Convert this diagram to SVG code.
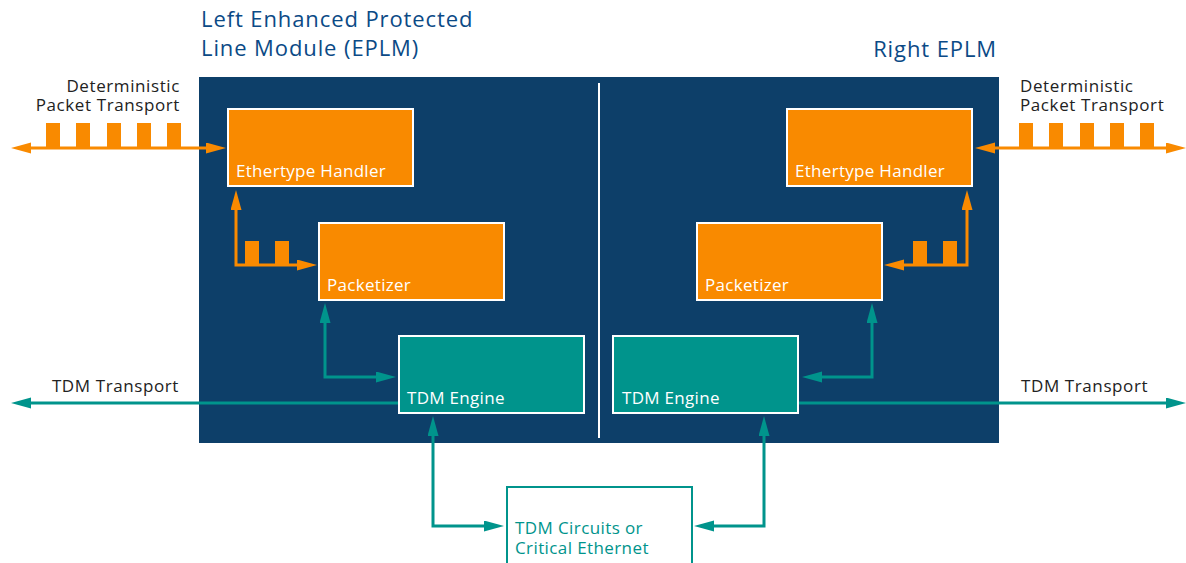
<svg xmlns="http://www.w3.org/2000/svg" width="1186" height="563" viewBox="0 0 1186 563">
  <style>
    .title { font-family: "Open Sans", "Liberation Sans", sans-serif; font-size: 22px; font-weight: 500; letter-spacing: 0.9px; fill: #0b4a86; }
    .label { font-family: "Open Sans", "Liberation Sans", sans-serif; font-size: 17px; font-weight: 500; letter-spacing: 0.6px; fill: #222222; }
    .node-text { font-family: "Open Sans", "Liberation Sans", sans-serif; font-size: 17px; font-weight: 500; letter-spacing: 0.3px; fill: #ffffff; }
    .teal-text { font-family: "Open Sans", "Liberation Sans", sans-serif; font-size: 17px; font-weight: 500; letter-spacing: 0.4px; fill: #00948c; }
    .orange-box { fill: #f98a00; stroke: #ffffff; stroke-width: 2; }
    .teal-box { fill: #00948c; stroke: #ffffff; stroke-width: 2; }
    .orange-line { fill: none; stroke: #f98a00; stroke-width: 3; }
    .teal-line { fill: none; stroke: #00948c; stroke-width: 3; }
    .pulse { fill: #f98a00; }
  </style>
  <defs>
    <marker id="arrow-orange" markerUnits="userSpaceOnUse" markerWidth="20" markerHeight="12" refX="12" refY="5.5" orient="auto-start-reverse">
      <path d="M0,0 L20,5.5 L0,11 z" fill="#f98a00"/>
    </marker>
    <marker id="arrow-teal" markerUnits="userSpaceOnUse" markerWidth="20" markerHeight="12" refX="12" refY="5.5" orient="auto-start-reverse">
      <path d="M0,0 L20,5.5 L0,11 z" fill="#00948c"/>
    </marker>
  </defs>

  <!-- module panel -->
  <rect x="199" y="77" width="800" height="366" fill="#0d3f69"/>
  <rect x="598" y="83" width="2" height="355" fill="#ffffff"/>

  <!-- headings -->
  <text class="title" x="201" y="27">Left Enhanced Protected</text>
  <text class="title" x="201" y="56">Line Module (EPLM)</text>
  <text class="title" x="997" y="57" text-anchor="end">Right EPLM</text>

  <!-- outside labels -->
  <text class="label" x="180" y="92" text-anchor="end">Deterministic</text>
  <text class="label" x="180" y="111" text-anchor="end">Packet Transport</text>
  <text class="label" x="1020" y="92">Deterministic</text>
  <text class="label" x="1020" y="111">Packet Transport</text>
  <text class="label" x="179" y="392" text-anchor="end">TDM Transport</text>
  <text class="label" x="1021" y="392">TDM Transport</text>

  <!-- connectors -->
  <g id="connectors">
    <!-- left packet transport -->
    <path class="orange-line" d="M19,148 H218" marker-start="url(#arrow-orange)" marker-end="url(#arrow-orange)"/>
    <rect class="pulse" x="46" y="123" width="14" height="25"/>
    <rect class="pulse" x="76" y="123" width="14" height="25"/>
    <rect class="pulse" x="107" y="123" width="14" height="25"/>
    <rect class="pulse" x="137" y="123" width="14" height="25"/>
    <rect class="pulse" x="167" y="123" width="14" height="25"/>
    <!-- left ethertype / packetizer -->
    <path class="orange-line" d="M236,198 V265 H309" marker-start="url(#arrow-orange)" marker-end="url(#arrow-orange)"/>
    <rect class="pulse" x="245" y="241" width="14" height="24"/>
    <rect class="pulse" x="275" y="241" width="14" height="24"/>
    <!-- left packetizer / tdm engine -->
    <path class="teal-line" d="M325,311 V377 H388" marker-start="url(#arrow-teal)" marker-end="url(#arrow-teal)"/>
    <!-- left tdm transport -->
    <path class="teal-line" d="M398,403 H19" marker-end="url(#arrow-teal)"/>
    <!-- left tdm engine / circuits -->
    <path class="teal-line" d="M433,424 V526 H496" marker-start="url(#arrow-teal)" marker-end="url(#arrow-teal)"/>

    <!-- right packet transport -->
    <path class="orange-line" d="M983,148 H1178" marker-start="url(#arrow-orange)" marker-end="url(#arrow-orange)"/>
    <rect class="pulse" x="1019" y="123" width="14" height="25"/>
    <rect class="pulse" x="1049" y="123" width="14" height="25"/>
    <rect class="pulse" x="1080" y="123" width="14" height="25"/>
    <rect class="pulse" x="1110" y="123" width="14" height="25"/>
    <rect class="pulse" x="1140" y="123" width="14" height="25"/>
    <!-- right ethertype / packetizer -->
    <path class="orange-line" d="M967,198 V265 H892" marker-start="url(#arrow-orange)" marker-end="url(#arrow-orange)"/>
    <rect class="pulse" x="913" y="241" width="14" height="24"/>
    <rect class="pulse" x="943" y="241" width="14" height="24"/>
    <!-- right packetizer / tdm engine -->
    <path class="teal-line" d="M872,311 V377 H810" marker-start="url(#arrow-teal)" marker-end="url(#arrow-teal)"/>
    <!-- right tdm transport -->
    <path class="teal-line" d="M799,403 H1178" marker-end="url(#arrow-teal)"/>
    <!-- right tdm engine / circuits -->
    <path class="teal-line" d="M764,424 V526 H702" marker-start="url(#arrow-teal)" marker-end="url(#arrow-teal)"/>
  </g>

  <!-- left module blocks -->
  <g id="left-ethertype">
    <rect class="orange-box" x="228" y="109" width="185" height="77"/>
    <text class="node-text" x="236" y="177">Ethertype Handler</text>
  </g>
  <g id="left-packetizer">
    <rect class="orange-box" x="319" y="223" width="185" height="77"/>
    <text class="node-text" x="327" y="291">Packetizer</text>
  </g>
  <g id="left-tdm-engine">
    <rect class="teal-box" x="399" y="336" width="185" height="77"/>
    <text class="node-text" x="407" y="404">TDM Engine</text>
  </g>

  <!-- right module blocks -->
  <g id="right-ethertype">
    <rect class="orange-box" x="787" y="109" width="185" height="77"/>
    <text class="node-text" x="795" y="177">Ethertype Handler</text>
  </g>
  <g id="right-packetizer">
    <rect class="orange-box" x="697" y="223" width="185" height="77"/>
    <text class="node-text" x="705" y="291">Packetizer</text>
  </g>
  <g id="right-tdm-engine">
    <rect class="teal-box" x="613" y="336" width="185" height="77"/>
    <text class="node-text" x="622" y="404">TDM Engine</text>
  </g>

  <!-- shared circuits -->
  <g id="tdm-circuits">
    <rect x="507" y="487" width="185" height="90" fill="#ffffff" stroke="#00948c" stroke-width="2"/>
    <text class="teal-text" x="515" y="534">TDM Circuits or</text>
    <text class="teal-text" x="515" y="554">Critical Ethernet</text>
  </g>
</svg>
